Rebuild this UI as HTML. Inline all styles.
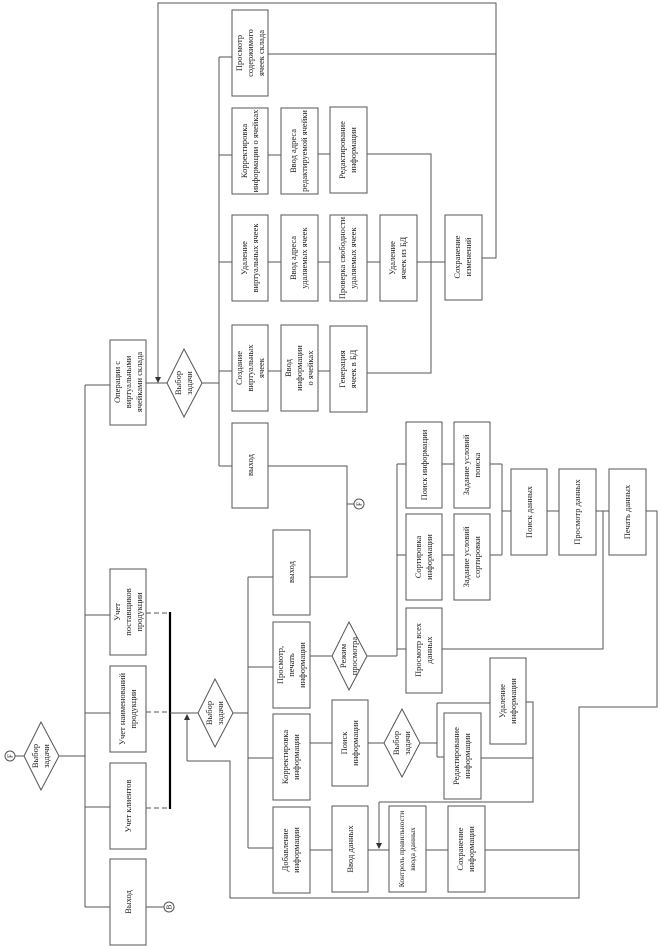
<!DOCTYPE html>
<html><head><meta charset="utf-8"><style>
html,body{margin:0;padding:0;background:#fff;}
svg{display:block;}
text{font-family:"Liberation Serif",serif;font-size:8.5px;fill:#222;}
</style></head><body>
<svg width="661" height="948" viewBox="0 0 661 948" xmlns="http://www.w3.org/2000/svg">
<defs>
<marker id="ar" markerWidth="6" markerHeight="6" refX="5" refY="3" orient="auto"><path d="M0,0 L6,3 L0,6 z" fill="#333"/></marker>
</defs>
<g fill="none" stroke="#555" stroke-width="1">
<polyline points="158,380 158,3 496,3 496,258 482,258"/>
<line x1="268" y1="54" x2="496" y2="54"/>
<line x1="158" y1="370" x2="158" y2="382" marker-end="url(#ar)"/>
<line x1="146" y1="383" x2="167" y2="383"/>
<line x1="202" y1="383" x2="219" y2="383"/>
<line x1="219" y1="57" x2="219" y2="466"/>
<line x1="219" y1="57" x2="232" y2="57"/>
<line x1="219" y1="155" x2="232" y2="155"/>
<line x1="219" y1="262" x2="232" y2="262"/>
<line x1="219" y1="371" x2="232" y2="371"/>
<line x1="219" y1="466" x2="232" y2="466"/>
<line x1="268" y1="155" x2="281" y2="155"/>
<line x1="318" y1="154" x2="330" y2="154"/>
<line x1="268" y1="262" x2="281" y2="262"/>
<line x1="318" y1="262" x2="330" y2="262"/>
<line x1="367" y1="262" x2="380" y2="262"/>
<line x1="417" y1="262" x2="445" y2="262"/>
<line x1="268" y1="371" x2="281" y2="371"/>
<line x1="318" y1="371" x2="330" y2="371"/>
<polyline points="367,154 431,154 431,373 367,373"/>
<line x1="85" y1="385" x2="110" y2="385"/>
<line x1="85" y1="385" x2="85" y2="907"/>
<line x1="85" y1="615" x2="110" y2="615"/>
<line x1="85" y1="713" x2="110" y2="713"/>
<line x1="85" y1="807" x2="110" y2="807"/>
<line x1="85" y1="907" x2="110" y2="907"/>
<line x1="59" y1="756" x2="85" y2="756"/>
<line x1="15" y1="756" x2="24" y2="756"/>
<line x1="146" y1="907" x2="164" y2="907"/>
<g stroke-dasharray="5,3">
<line x1="146" y1="613" x2="170" y2="613"/>
<line x1="146" y1="712" x2="170" y2="712"/>
<line x1="146" y1="808" x2="170" y2="808"/>
</g>
<line x1="170" y1="612" x2="170" y2="809" stroke="#000" stroke-width="2.2"/>
<line x1="170" y1="713" x2="198" y2="713"/>
<line x1="187" y1="761" x2="187" y2="715" marker-end="url(#ar)"/>
<polyline points="187,761 230,761 230,898 579,898 579,707 657,707 657,511 646,511"/>
<line x1="485" y1="850" x2="579" y2="850"/>
<line x1="233" y1="713" x2="248" y2="713"/>
<line x1="248" y1="577" x2="248" y2="848"/>
<line x1="248" y1="577" x2="273" y2="577"/>
<line x1="248" y1="667" x2="273" y2="667"/>
<line x1="248" y1="758" x2="273" y2="758"/>
<line x1="248" y1="848" x2="273" y2="848"/>
<polyline points="268,466 347,466 347,577 310,577"/>
<line x1="347" y1="504" x2="354" y2="504"/>
<line x1="310" y1="656" x2="332" y2="656"/>
<line x1="367" y1="656" x2="397" y2="656"/>
<line x1="397" y1="464" x2="397" y2="656"/>
<line x1="397" y1="464" x2="406" y2="464"/>
<line x1="397" y1="555" x2="406" y2="555"/>
<line x1="397" y1="649" x2="406" y2="649"/>
<line x1="442" y1="464" x2="454" y2="464"/>
<line x1="442" y1="555" x2="454" y2="555"/>
<line x1="490" y1="464" x2="502" y2="464"/>
<line x1="490" y1="555" x2="502" y2="555"/>
<line x1="502" y1="464" x2="502" y2="555"/>
<line x1="502" y1="511" x2="511" y2="511"/>
<line x1="547" y1="511" x2="559" y2="511"/>
<line x1="596" y1="511" x2="609" y2="511"/>
<polyline points="603,511 603,649 442,649"/>
<line x1="310" y1="743" x2="332" y2="743"/>
<line x1="368" y1="743" x2="384" y2="743"/>
<line x1="420" y1="743" x2="437" y2="743"/>
<line x1="437" y1="703" x2="437" y2="757"/>
<line x1="437" y1="757" x2="444" y2="757"/>
<line x1="437" y1="703" x2="490" y2="703"/>
<polyline points="526,702 533,702 533,802 379,802"/>
<line x1="481" y1="758" x2="533" y2="758"/>
<line x1="379" y1="802" x2="379" y2="848" marker-end="url(#ar)"/>
<line x1="310" y1="850" x2="332" y2="850"/>
<line x1="368" y1="850" x2="389" y2="850"/>
<line x1="426" y1="850" x2="448" y2="850"/>
<rect x="232" y="10" width="36" height="86"/>
<rect x="232" y="108" width="36" height="86"/>
<rect x="232" y="215" width="36" height="86"/>
<rect x="232" y="325" width="36" height="86"/>
<rect x="232" y="423" width="36" height="85"/>
<rect x="281" y="108" width="37" height="86"/>
<rect x="281" y="215" width="37" height="86"/>
<rect x="281" y="325" width="37" height="86"/>
<rect x="330" y="107" width="37" height="86"/>
<rect x="330" y="215" width="37" height="86"/>
<rect x="330" y="326" width="37" height="86"/>
<rect x="380" y="215" width="37" height="86"/>
<rect x="445" y="215" width="37" height="85"/>
<rect x="110" y="340" width="36" height="85"/>
<rect x="110" y="569" width="36" height="86"/>
<rect x="110" y="666" width="36" height="86"/>
<rect x="110" y="763" width="36" height="86"/>
<rect x="110" y="859" width="36" height="86"/>
<rect x="273" y="530" width="37" height="85"/>
<rect x="273" y="622" width="37" height="86"/>
<rect x="273" y="714" width="37" height="86"/>
<rect x="273" y="807" width="37" height="86"/>
<rect x="332" y="700" width="36" height="86"/>
<rect x="332" y="806" width="36" height="86"/>
<rect x="406" y="422" width="36" height="86"/>
<rect x="406" y="514" width="36" height="86"/>
<rect x="406" y="608" width="36" height="85"/>
<rect x="454" y="422" width="36" height="86"/>
<rect x="454" y="514" width="36" height="86"/>
<rect x="511" y="469" width="36" height="86"/>
<rect x="559" y="469" width="37" height="86"/>
<rect x="609" y="469" width="37" height="86"/>
<rect x="444" y="713" width="37" height="86" fill="#fff"/>
<rect x="490" y="658" width="36" height="86"/>
<rect x="389" y="806" width="37" height="86"/>
<rect x="448" y="806" width="37" height="86"/>
<polygon points="184,349 202,383 184,417 167,383"/>
<polygon points="41,722 59,756 41,790 24,756"/>
<polygon points="215,679 233,713 215,747 198,713"/>
<polygon points="349,622 367,656 349,690 332,656"/>
<polygon points="402,709 420,743 402,777 384,743"/>
<circle cx="10" cy="756" r="5"/>
<circle cx="169" cy="907" r="5"/>
<circle cx="359" cy="504" r="5"/>
</g>
<g text-anchor="middle">
<text transform="translate(250,53) rotate(-90)"><tspan x="0" y="-8">Просмотр</tspan><tspan x="0" y="3">содержимого</tspan><tspan x="0" y="14">ячеек склада</tspan></text>
<text transform="translate(250,151) rotate(-90)"><tspan x="0" y="-3">Корректировка</tspan><tspan x="0" y="8">информации о ячейках</tspan></text>
<text transform="translate(250,258) rotate(-90)"><tspan x="0" y="-3">Удаление</tspan><tspan x="0" y="8">виртуальных ячеек</tspan></text>
<text transform="translate(250,368) rotate(-90)"><tspan x="0" y="-8">Создание</tspan><tspan x="0" y="3">виртуальных</tspan><tspan x="0" y="14">ячеек</tspan></text>
<text transform="translate(250,465) rotate(-90)"><tspan x="0" y="3">выход</tspan></text>
<text transform="translate(299,151) rotate(-90)"><tspan x="0" y="-3">Ввод адреса</tspan><tspan x="0" y="8">редактируемой ячейки</tspan></text>
<text transform="translate(299,258) rotate(-90)"><tspan x="0" y="-3">Ввод адреса</tspan><tspan x="0" y="8">удаляемых ячеек</tspan></text>
<text transform="translate(299,368) rotate(-90)"><tspan x="0" y="-8">Ввод</tspan><tspan x="0" y="3">информации</tspan><tspan x="0" y="14">о ячейках</tspan></text>
<text transform="translate(348,150) rotate(-90)"><tspan x="0" y="-3">Редактирование</tspan><tspan x="0" y="8">информации</tspan></text>
<text transform="translate(348,258) rotate(-90)"><tspan x="0" y="-3">Проверка свободности</tspan><tspan x="0" y="8">удаляемых ячеек</tspan></text>
<text transform="translate(348,369) rotate(-90)"><tspan x="0" y="-3">Генерация</tspan><tspan x="0" y="8">ячеек в БД</tspan></text>
<text transform="translate(398,258) rotate(-90)"><tspan x="0" y="-3">Удаление</tspan><tspan x="0" y="8">ячеек из БД</tspan></text>
<text transform="translate(463,257) rotate(-90)"><tspan x="0" y="-3">Сохранение</tspan><tspan x="0" y="8">изменений</tspan></text>
<text transform="translate(128,382) rotate(-90)"><tspan x="0" y="-8">Операции с</tspan><tspan x="0" y="3">виртуальными</tspan><tspan x="0" y="14">ячейками склада</tspan></text>
<text transform="translate(128,612) rotate(-90)"><tspan x="0" y="-8">Учет</tspan><tspan x="0" y="3">поставщиков</tspan><tspan x="0" y="14">продукции</tspan></text>
<text transform="translate(128,709) rotate(-90)"><tspan x="0" y="-3">Учет наименований</tspan><tspan x="0" y="8">продукции</tspan></text>
<text transform="translate(128,806) rotate(-90)"><tspan x="0" y="3">Учет клиентов</tspan></text>
<text transform="translate(128,902) rotate(-90)"><tspan x="0" y="3">Выход</tspan></text>
<text transform="translate(291,572) rotate(-90)"><tspan x="0" y="3">выход</tspan></text>
<text transform="translate(291,665) rotate(-90)"><tspan x="0" y="-8">Просмотр,</tspan><tspan x="0" y="3">печать</tspan><tspan x="0" y="14">информации</tspan></text>
<text transform="translate(291,757) rotate(-90)"><tspan x="0" y="-3">Корректировка</tspan><tspan x="0" y="8">информации</tspan></text>
<text transform="translate(291,850) rotate(-90)"><tspan x="0" y="-3">Добавление</tspan><tspan x="0" y="8">информации</tspan></text>
<text transform="translate(350,743) rotate(-90)"><tspan x="0" y="-3">Поиск</tspan><tspan x="0" y="8">информации</tspan></text>
<text transform="translate(350,849) rotate(-90)"><tspan x="0" y="3">Ввод данных</tspan></text>
<text transform="translate(424,465) rotate(-90)"><tspan x="0" y="3">Поиск информации</tspan></text>
<text transform="translate(424,557) rotate(-90)"><tspan x="0" y="-3">Сортировка</tspan><tspan x="0" y="8">информации</tspan></text>
<text transform="translate(424,650) rotate(-90)"><tspan x="0" y="-3">Просмотр всех</tspan><tspan x="0" y="8">данных</tspan></text>
<text transform="translate(472,465) rotate(-90)"><tspan x="0" y="-3">Задание условий</tspan><tspan x="0" y="8">поиска</tspan></text>
<text transform="translate(472,557) rotate(-90)"><tspan x="0" y="-3">Задание условий</tspan><tspan x="0" y="8">сортировки</tspan></text>
<text transform="translate(529,512) rotate(-90)"><tspan x="0" y="3">Поиск данных</tspan></text>
<text transform="translate(577,512) rotate(-90)"><tspan x="0" y="3">Просмотр данных</tspan></text>
<text transform="translate(627,512) rotate(-90)"><tspan x="0" y="3">Печать данных</tspan></text>
<text transform="translate(462,756) rotate(-90)"><tspan x="0" y="-3">Редактирование</tspan><tspan x="0" y="8">информации</tspan></text>
<text transform="translate(508,701) rotate(-90)"><tspan x="0" y="-3">Удаление</tspan><tspan x="0" y="8">информации</tspan></text>
<text transform="translate(407,849) rotate(-90)" style="font-size:7.5px"><tspan x="0" y="-3">Контроль правильности</tspan><tspan x="0" y="8">ввода данных</tspan></text>
<text transform="translate(466,849) rotate(-90)"><tspan x="0" y="-3">Сохранение</tspan><tspan x="0" y="8">информации</tspan></text>
<text transform="translate(184,383) rotate(-90)"><tspan x="0" y="-3">Выбор</tspan><tspan x="0" y="8">задачи</tspan></text>
<text transform="translate(41,756) rotate(-90)"><tspan x="0" y="-3">Выбор</tspan><tspan x="0" y="8">задачи</tspan></text>
<text transform="translate(215,713) rotate(-90)"><tspan x="0" y="-3">Выбор</tspan><tspan x="0" y="8">задачи</tspan></text>
<text transform="translate(349,656) rotate(-90)"><tspan x="0" y="-3">Режим</tspan><tspan x="0" y="8">просмотра</tspan></text>
<text transform="translate(402,743) rotate(-90)"><tspan x="0" y="-3">Выбор</tspan><tspan x="0" y="8">задачи</tspan></text>
<text transform="translate(10,756) rotate(-90)" style="font-size:7px"><tspan x="0" y="2.5">F</tspan></text>
<text transform="translate(169,907) rotate(-90)" style="font-size:7px"><tspan x="0" y="2.5">В</tspan></text>
<text transform="translate(359,504) rotate(-90)" style="font-size:7px"><tspan x="0" y="2.5">F</tspan></text>
</g>
</svg>
</body></html>
